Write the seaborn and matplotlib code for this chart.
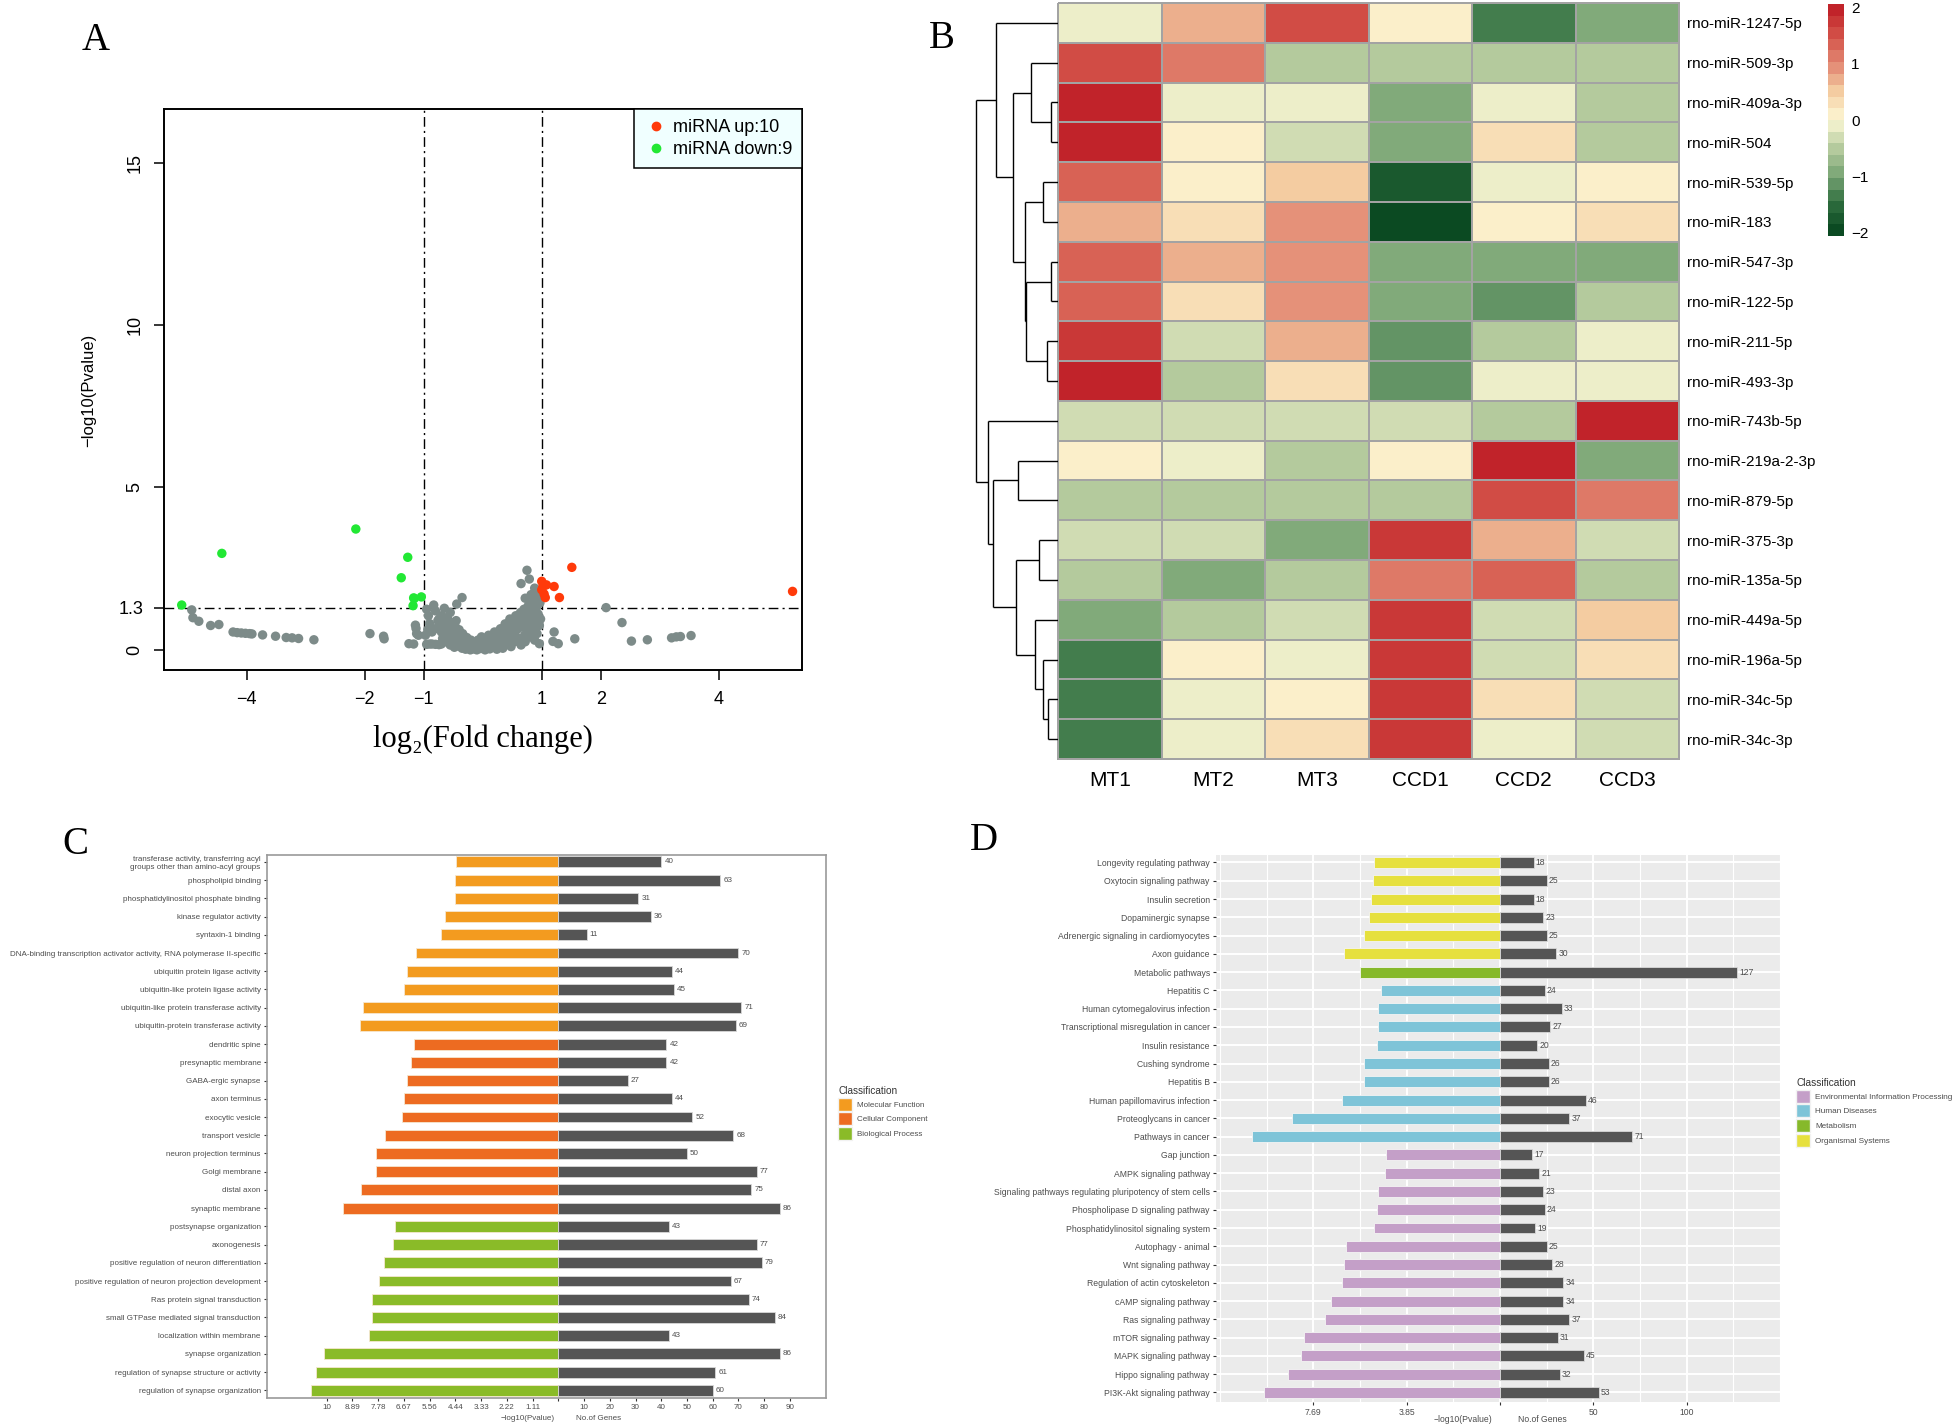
import matplotlib
matplotlib.use("Agg")
import matplotlib.pyplot as plt
from matplotlib import font_manager
from matplotlib.colors import LinearSegmentedColormap
from matplotlib.lines import Line2D
from matplotlib.patches import Patch
import numpy as np
import pandas as pd
import seaborn as sns

# ============ Canvas ============
W, H = 1960, 1427

# ============ Panel A: volcano ============
GRAY_POINTS = [
    # left tail
    (-4.93, 1.23), (-4.91, 0.99), (-4.81, 0.88), (-4.61, 0.75), (-4.47, 0.78),
    (-4.23, 0.55), (-4.16, 0.53), (-4.09, 0.52), (-4.02, 0.51), (-3.95, 0.50),
    (-3.91, 0.49), (-3.73, 0.46), (-3.51, 0.42), (-3.33, 0.38), (-3.23, 0.37),
    (-3.12, 0.35), (-2.86, 0.31), (-1.91, 0.50), (-1.68, 0.42), (-1.67, 0.34),
    (-1.25, 0.19), (-1.17, 0.18), (-1.14, 0.76), (-1.13, 0.66), (-1.12, 0.50),
    (-1.09, 0.45),
    # around -1
    (-0.95, 0.17), (-0.90, 0.18), (-0.86, 0.18), (-0.80, 0.17), (-0.74, 0.16),
    (-0.70, 0.18), (-0.97, 0.45), (-0.93, 0.62), (-0.90, 0.81), (-0.86, 0.55),
    (-0.83, 1.38), (-0.95, 1.25), (-0.92, 1.05), (-0.79, 0.66), (-0.76, 0.90),
    (-0.65, 1.28), (-0.44, 1.41), (-0.35, 1.61), (-0.55, 1.15), (-0.80, 1.20),
    # left lobe
    (-0.74, 0.95), (-0.72, 0.75), (-0.70, 0.55), (-0.70, 1.05), (-0.68, 0.35),
    (-0.66, 0.85), (-0.65, 0.62), (-0.63, 0.45), (-0.62, 0.25), (-0.60, 1.00),
    (-0.60, 0.75), (-0.58, 0.55), (-0.57, 0.35), (-0.55, 0.15), (-0.54, 0.85),
    (-0.52, 0.65), (-0.50, 0.45), (-0.49, 0.25), (-0.48, 0.08), (-0.46, 0.70),
    (-0.45, 0.90), (-0.44, 0.50), (-0.42, 0.30), (-0.41, 0.12), (-0.40, 0.62),
    (-0.38, 0.42), (-0.36, 0.20), (-0.35, 0.05), (-0.34, 0.50), (-0.32, 0.32),
    (-0.30, 0.12), (-0.29, 0.02), (-0.27, 0.38), (-0.25, 0.22), (-0.23, 0.08),
    (-0.21, 0.00), (-0.20, 0.30), (-0.18, 0.14), (-0.16, 0.03), (-0.14, 0.22),
    # bottom
    (-0.12, 0.10), (-0.10, 0.00), (-0.08, 0.30), (-0.06, 0.15), (-0.04, 0.04),
    (-0.02, 0.40), (0.00, 0.20), (0.02, 0.06), (0.04, 0.00), (0.06, 0.28),
    (0.08, 0.12), (0.10, 0.45), (0.12, 0.03), (0.14, 0.20), (0.16, 0.35),
    (0.18, 0.08), (0.20, 0.55), (0.22, 0.25), (0.24, 0.02), (0.26, 0.40),
    (0.28, 0.15),
    # right lobe
    (0.30, 0.65), (0.32, 0.30), (0.34, 0.05), (0.36, 0.50), (0.38, 0.80),
    (0.40, 0.18), (0.42, 0.62), (0.44, 0.38), (0.46, 0.95), (0.48, 0.10),
    (0.50, 0.75), (0.52, 0.50), (0.54, 0.25), (0.56, 1.05), (0.58, 0.62),
    (0.60, 0.85), (0.62, 0.35), (0.64, 1.15), (0.65, 0.15), (0.66, 0.70),
    (0.68, 0.95), (0.70, 1.25), (0.71, 0.45), (0.72, 0.25), (0.74, 0.80),
    (0.75, 1.10), (0.77, 1.35), (0.78, 0.60), (0.80, 0.40), (0.81, 0.95),
    (0.83, 1.20), (0.84, 1.45), (0.85, 0.70), (0.87, 1.05), (0.88, 0.30),
    (0.89, 1.55), (0.90, 0.85), (0.91, 1.30), (0.92, 0.50), (0.94, 1.10),
    (0.95, 1.70), (0.96, 0.75), (0.97, 1.45), (0.98, 0.95),
    (0.75, 2.45), (0.79, 2.18), (0.65, 2.04), (0.72, 1.59), (0.82, 1.70),
    (0.93, 1.75), (0.88, 1.90), (0.97, 1.62),
    # right tail
    (0.96, 0.19), (0.82, 0.45), (1.19, 0.26), (1.21, 0.55), (1.28, 0.19),
    (1.56, 0.34), (2.09, 1.30), (2.36, 0.84), (2.52, 0.27), (2.79, 0.31),
    (3.20, 0.37), (3.28, 0.40), (3.35, 0.41), (3.53, 0.44),
]
UP_X = [1.51, 1.00, 1.08, 1.21, 1.00, 1.04, 1.06, 1.30, 1.02, 5.25]
UP_Y = [2.54, 2.11, 2.00, 1.95, 1.85, 1.72, 1.61, 1.61, 1.95, 1.80]
DOWN_X = [-5.10, -4.42, -2.15, -1.27, -1.38, -1.17, -1.04, -1.18, -1.16]
DOWN_Y = [1.38, 2.97, 3.72, 2.85, 2.22, 1.60, 1.63, 1.36, 1.58]
VOL_XTICKS = [-4, -2, -1, 1, 2, 4]
VOL_YTICKS = [0, 1.3, 5, 10, 15]

# ============ Panel B: heatmap ============
MIRNAS = ["rno-miR-1247-5p", "rno-miR-509-3p", "rno-miR-409a-3p", "rno-miR-504",
          "rno-miR-539-5p", "rno-miR-183", "rno-miR-547-3p", "rno-miR-122-5p",
          "rno-miR-211-5p", "rno-miR-493-3p", "rno-miR-743b-5p", "rno-miR-219a-2-3p",
          "rno-miR-879-5p", "rno-miR-375-3p", "rno-miR-135a-5p", "rno-miR-449a-5p",
          "rno-miR-196a-5p", "rno-miR-34c-5p", "rno-miR-34c-3p"]
MT1 = [-0.2, 1.6, 2.0, 2.0, 1.3, 0.7, 1.3, 1.3, 1.7, 2.0, -0.4, 0.0, -0.6, -0.4, -0.6, -0.9, -1.3, -1.3, -1.3]
MT2 = [0.8, 1.1, -0.2, 0.0, 0.0, 0.25, 0.8, 0.25, -0.4, -0.6, -0.4, -0.2, -0.6, -0.4, -0.9, -0.6, 0.0, -0.2, -0.2]
MT3 = [1.6, -0.6, -0.2, -0.4, 0.5, 0.9, 0.9, 0.9, 0.7, 0.25, -0.4, -0.6, -0.6, -0.9, -0.6, -0.4, -0.2, 0.0, 0.25]
CCD1 = [0.2, -0.6, -0.9, -0.9, -1.7, -2.0, -0.9, -0.9, -1.1, -1.1, -0.4, 0.0, -0.6, 1.8, 1.1, 1.8, 1.8, 1.8, 1.8]
CCD2 = [-1.3, -0.6, -0.2, 0.3, -0.2, 0.05, -0.9, -1.1, -0.6, -0.2, -0.45, 2.0, 1.5, 0.7, 1.3, -0.4, -0.4, 0.3, -0.2]
CCD3 = [-0.9, -0.6, -0.6, -0.6, 0.0, 0.25, -0.9, -0.6, -0.2, -0.2, 2.0, -0.9, 1.1, -0.4, -0.6, 0.45, 0.3, -0.4, -0.4]
HEAT_ANCHORS = [-2, -1.5, -1, -0.5, 0, 0.5, 1, 1.5, 2]
HEAT_COLORS = ["#0B4A22", "#2F6E3F", "#7BA676", "#B7CC9F", "#FCF7D4",
               "#F5D0A4", "#E38A74", "#D4544A", "#C1232A"]
# row dendrogram: (node, left, right, height)
DEND_MERGES = [
    ("a", 2, 3, 10), ("b", 1, "a", 40), ("c", 4, 5, 22), ("d", 6, 7, 10),
    ("e", 8, 9, 17), ("f", "d", "e", 48), ("g", "c", "f", 50), ("h", "b", "g", 67),
    ("i", 0, "h", 93), ("j", 11, 12, 60), ("k", 13, 14, 28), ("l", 17, 18, 15),
    ("m", 16, "l", 22), ("n", 15, "m", 35), ("o", "k", "n", 63), ("p", "j", "o", 97),
    ("q", 10, "p", 105), ("r", "i", "q", 123),
]

# ============ Panel C: GO ============
GO_TERMS = [
    "transferase activity, transferring acyl\ngroups other than amino-acyl groups",
    "phospholipid binding", "phosphatidylinositol phosphate binding",
    "kinase regulator activity", "syntaxin-1 binding",
    "DNA-binding transcription activator activity, RNA polymerase II-specific",
    "ubiquitin protein ligase activity", "ubiquitin-like protein ligase activity",
    "ubiquitin-like protein transferase activity", "ubiquitin-protein transferase activity",
    "dendritic spine", "presynaptic membrane", "GABA-ergic synapse", "axon terminus",
    "exocytic vesicle", "transport vesicle", "neuron projection terminus",
    "Golgi membrane", "distal axon", "synaptic membrane",
    "postsynapse organization", "axonogenesis",
    "positive regulation of neuron differentiation",
    "positive regulation of neuron projection development",
    "Ras protein signal transduction", "small GTPase mediated signal transduction",
    "localization within membrane", "synapse organization",
    "regulation of synapse structure or activity", "regulation of synapse organization",
]
GO_CLASS = (["Molecular Function"] * 10 + ["Cellular Component"] * 10
            + ["Biological Process"] * 10)
GO_LOGP = [4.42, 4.46, 4.46, 4.88, 5.06, 6.16, 6.52, 6.65, 8.42, 8.55,
           6.24, 6.36, 6.53, 6.65, 6.76, 7.50, 7.88, 7.88, 8.52, 9.31,
           7.05, 7.12, 7.54, 7.75, 8.03, 8.06, 8.16, 10.10, 10.45, 10.66]
GO_GENES = [40, 63, 31, 36, 11, 70, 44, 45, 71, 69,
            42, 42, 27, 44, 52, 68, 50, 77, 75, 86,
            43, 77, 79, 67, 74, 84, 43, 86, 61, 60]
GO_CLASSES = ["Molecular Function", "Cellular Component", "Biological Process"]
GO_COLORS = ["#F39B1F", "#ED6B21", "#8ABB28"]
GO_SCALE = 9

# ============ Panel D: KEGG ============
KEGG_TERMS = [
    "Longevity regulating pathway", "Oxytocin signaling pathway", "Insulin secretion",
    "Dopaminergic synapse", "Adrenergic signaling in cardiomyocytes", "Axon guidance",
    "Metabolic pathways", "Hepatitis C", "Human cytomegalovirus infection",
    "Transcriptional misregulation in cancer", "Insulin resistance", "Cushing syndrome",
    "Hepatitis B", "Human papillomavirus infection", "Proteoglycans in cancer",
    "Pathways in cancer", "Gap junction", "AMPK signaling pathway",
    "Signaling pathways regulating pluripotency of stem cells",
    "Phospholipase D signaling pathway", "Phosphatidylinositol signaling system",
    "Autophagy - animal", "Wnt signaling pathway", "Regulation of actin cytoskeleton",
    "cAMP signaling pathway", "Ras signaling pathway", "mTOR signaling pathway",
    "MAPK signaling pathway", "Hippo signaling pathway", "PI3K-Akt signaling pathway",
]
KEGG_CLASS = (["Organismal Systems"] * 6 + ["Metabolism"] + ["Human Diseases"] * 9
              + ["Environmental Information Processing"] * 14)
KEGG_LOGP = [5.18, 5.25, 5.30, 5.42, 5.62, 6.42, 5.76, 4.91, 5.04, 5.04,
             5.08, 5.59, 5.59, 6.52, 8.58, 10.21, 4.70, 4.75, 5.04, 5.06,
             5.21, 6.36, 6.43, 6.52, 6.97, 7.22, 8.10, 8.20, 8.75, 9.71]
KEGG_GENES = [18, 25, 18, 23, 25, 30, 127, 24, 33, 27, 20, 26, 26, 46, 37,
              71, 17, 21, 23, 24, 19, 25, 28, 34, 34, 37, 31, 45, 32, 53]
KEGG_CLASSES = ["Environmental Information Processing", "Human Diseases",
                "Metabolism", "Organismal Systems"]
KEGG_COLORS = ["#C49FC8", "#7EC4D8", "#86B92A", "#E6E03E"]
KEGG_SCALE = 13

# ============ Style ============
RED, GREEN, GRAY = "#FF3A0A", "#22E834", "#7D8B89"
BAR_GRAY = "#555555"
TXT_GRAY = "#4D4D4D"

_names = {f.name for f in font_manager.fontManager.ttflist}
HAS_NARROW = "Liberation Sans Narrow" in _names
SMALL_FONT = ["Liberation Sans Narrow", "Liberation Sans"] if HAS_NARROW else ["Liberation Sans"]
SIZE_C = 6.9 if HAS_NARROW else 5.8
SIZE_D = 7.3 if HAS_NARROW else 6.2
SIZE_LEG_D = 6.9 if HAS_NARROW else 5.85
SERIF = ["Liberation Serif", "DejaVu Serif"]
plt.rcParams["font.family"] = ["Liberation Sans", "DejaVu Sans"]


def box(left, top, right, bottom):
    return [left / W, 1 - bottom / H, (right - left) / W, (bottom - top) / H]


def fxy(x, y):
    return x / W, 1 - y / H


def dendro_segments(merges, n_leaves):
    pos = {i: i + 0.5 for i in range(n_leaves)}
    hgt = {i: 0.0 for i in range(n_leaves)}
    segs = []
    for name, a, b, h in merges:
        for c in (a, b):
            segs.append(([hgt[c], h], [pos[c], pos[c]]))
        segs.append(([h, h], [pos[a], pos[b]]))
        pos[name] = (pos[a] + pos[b]) / 2
        hgt[name] = h
    return segs


fig = plt.figure(figsize=(W / 100, H / 100), dpi=100)

# ---------- A ----------
axA = fig.add_axes(box(164, 109, 802, 670))
vol = pd.DataFrame({
    "fc": [p[0] for p in GRAY_POINTS] + DOWN_X + UP_X,
    "p": [p[1] for p in GRAY_POINTS] + DOWN_Y + UP_Y,
    "grp": ["ns"] * len(GRAY_POINTS) + ["down"] * len(DOWN_X) + ["up"] * len(UP_X),
})
sns.scatterplot(data=vol, x="fc", y="p", hue="grp",
                palette={"ns": GRAY, "down": GREEN, "up": RED},
                s=46, linewidth=0, legend=False, ax=axA, zorder=3)
dotdash = (0, (7, 3, 1.5, 3))
for v in (-1, 1):
    axA.axvline(v, color="black", lw=1.0, ls=dotdash, zorder=2)
axA.axhline(1.3, color="black", lw=1.0, ls=dotdash, zorder=2)
axA.set_xlim(-5.40, 5.41)
axA.set_ylim(-0.62, 16.65)
axA.set_xticks(VOL_XTICKS)
axA.set_xticklabels([f"{v}".replace("-", "\u2212") for v in VOL_XTICKS])
axA.set_yticks(VOL_YTICKS)
axA.set_yticklabels([f"{v:g}" for v in VOL_YTICKS])
for lab in axA.get_yticklabels():
    if lab.get_text() != "1.3":
        lab.set_rotation(90)
        lab.set_va("center")
axA.tick_params(direction="out", length=7, width=1.1, labelsize=13, pad=8)
for sp in axA.spines.values():
    sp.set_linewidth(1.4)
axA.set_xlabel("")
axA.set_ylabel("")
leg = axA.legend(handles=[
    Line2D([], [], marker="o", ls="", color=RED, ms=6, label="miRNA up:10"),
    Line2D([], [], marker="o", ls="", color=GREEN, ms=6, label="miRNA down:9")],
    loc="upper right", fontsize=13, frameon=True, fancybox=False,
    facecolor="#F0FFFF", edgecolor="black", framealpha=1, borderaxespad=0,
    handletextpad=0.2, handlelength=1.4, borderpad=0.55, labelspacing=0.3)
leg.get_frame().set_linewidth(1.1)
fig.text(*fxy(89, 390), "\u2212log10(Pvalue)", rotation=90, ha="center", va="center", fontsize=12)
fig.text(*fxy(483, 739), "log\u2082(Fold change)", ha="center", va="center",
         fontsize=22, family=SERIF)
fig.text(*fxy(96, 40), "A", ha="center", va="center", fontsize=28, family=SERIF)

# ---------- B ----------
axB = fig.add_axes(box(1058, 3, 1679, 759))
cax = fig.add_axes(box(1828, 4, 1844, 236))
axDen = fig.add_axes(box(960, 3, 1058, 759))
heat = pd.DataFrame({"MT1": MT1, "MT2": MT2, "MT3": MT3,
                     "CCD1": CCD1, "CCD2": CCD2, "CCD3": CCD3}, index=MIRNAS)
lo, hi = HEAT_ANCHORS[0], HEAT_ANCHORS[-1]
cmap = LinearSegmentedColormap.from_list(
    "rg", [((a - lo) / (hi - lo), c) for a, c in zip(HEAT_ANCHORS, HEAT_COLORS)], N=20)
sns.heatmap(heat, cmap=cmap, vmin=-2.06, vmax=2.06, linewidths=1.1,
            linecolor="#A3A3A3", cbar_ax=cax, ax=axB)
axB.collections[0].set_clip_on(False)
axB.yaxis.tick_right()
axB.set_yticks(np.arange(len(MIRNAS)) + 0.5)
axB.set_yticklabels(MIRNAS, rotation=0, fontsize=11)
axB.set_xticks(np.arange(heat.shape[1]) + 0.5)
axB.set_xticklabels(heat.columns, rotation=0, fontsize=15)
axB.tick_params(axis="y", length=0, pad=6)
axB.tick_params(axis="x", length=0, pad=9)
axB.set_xlabel("")
axB.set_ylabel("")
cb = axB.collections[0].colorbar
cb.set_ticks([2, 1, 0, -1, -2])
cb.set_ticklabels(["2", "1", "0", "\u22121", "\u22122"])
cb.outline.set_visible(False)
cax.tick_params(length=0, labelsize=11, pad=5)
for xs, ys in dendro_segments(DEND_MERGES, len(MIRNAS)):
    axDen.plot(xs, ys, color="black", lw=1.0, solid_capstyle="butt")
axDen.set_xlim(146.7, 0)
axDen.set_ylim(len(MIRNAS), 0)
axDen.axis("off")
fig.text(*fxy(942, 38), "B", ha="center", va="center", fontsize=28, family=SERIF)


# ---------- C and D: mirrored bars ----------
def mirrored_bars(ax, terms, classes, logp, genes, scale, class_order, colors, edge, size):
    df = pd.DataFrame({"term": terms, "cls": classes, "logp": logp, "genes": genes})
    df["score"] = -df["logp"] * scale
    sns.barplot(data=df, x="score", y="term", hue="cls", hue_order=class_order,
                palette=dict(zip(class_order, colors)), dodge=False, width=0.6,
                saturation=1, orient="h", errorbar=None, edgecolor=edge,
                linewidth=0.6, legend=False, ax=ax, zorder=3)
    sns.barplot(data=df, x="genes", y="term", color=BAR_GRAY, width=0.6,
                saturation=1, orient="h", errorbar=None, edgecolor="#D8D8D8",
                linewidth=0.6, ax=ax, zorder=3)
    for i, g in enumerate(genes):
        ax.text(g + 1.2, i, f"{g}", va="center", ha="left", fontsize=size,
                color=TXT_GRAY, family=SMALL_FONT)
    ax.set_xlabel("")
    ax.set_ylabel("")
    ax.tick_params(axis="both", colors="#333333", labelcolor=TXT_GRAY,
                   labelsize=size, length=2.5, width=0.8, pad=2)
    for lab in ax.get_yticklabels() + ax.get_xticklabels():
        lab.set_fontfamily(SMALL_FONT)


def class_legend(ax, x, y, class_order, colors, size):
    handles = [Patch(facecolor=c, edgecolor="#F2F2F2", label=k)
               for k, c in zip(class_order, colors)]
    lg = ax.legend(handles=handles, title="Classification", loc="upper left",
                   bbox_to_anchor=fxy(x, y), bbox_transform=fig.transFigure,
                   frameon=False, fontsize=size, title_fontsize=size + 1.4,
                   alignment="left", handlelength=1.75, handleheight=2.1,
                   handletextpad=0.6, labelspacing=0.2, borderaxespad=0, borderpad=0)
    for t in lg.get_texts():
        t.set_fontfamily(SMALL_FONT)
        t.set_color(TXT_GRAY)
    lg.get_title().set_fontfamily(SMALL_FONT)
    lg.get_title().set_color("#333333")


axC = fig.add_axes(box(267, 855, 826, 1398))
mirrored_bars(axC, GO_TERMS, GO_CLASS, GO_LOGP, GO_GENES, GO_SCALE,
              GO_CLASSES, GO_COLORS, "#F6E7D0", SIZE_C)
go_ticks = [-90, -80, -70, -60, -50, -40, -30, -20, -10, 0, 10, 20, 30, 40, 50, 60, 70, 80, 90]
axC.set_xticks(go_ticks)
axC.set_xticklabels([f"{round(-t / GO_SCALE, 2):g}" if t < 0 else (f"{t}" if t > 0 else "")
                     for t in go_ticks])
for lab in axC.get_xticklabels():
    lab.set_fontfamily(SMALL_FONT)
axC.set_xlim(-113.2, 104.0)
axC.set_ylim(29.42, -0.38)
for sp in axC.spines.values():
    sp.set_color("#9A9A9A")
    sp.set_linewidth(1.2)
class_legend(axC, 838, 1086, GO_CLASSES, GO_COLORS, SIZE_C)
fig.text(*fxy(528, 1418), "\u2212log10(Pvalue)", ha="center", va="center",
         fontsize=SIZE_C, color=TXT_GRAY, family=SMALL_FONT)
fig.text(*fxy(599, 1418), "No.of Genes", ha="center", va="center",
         fontsize=SIZE_C, color=TXT_GRAY, family=SMALL_FONT)
fig.text(*fxy(75, 845), "C", ha="center", va="center", fontsize=28, family=SERIF)

axD = fig.add_axes(box(1216, 855, 1781, 1402))
axD.set_facecolor("#EBEBEB")
axD.set_axisbelow(True)
mirrored_bars(axD, KEGG_TERMS, KEGG_CLASS, KEGG_LOGP, KEGG_GENES, KEGG_SCALE,
              KEGG_CLASSES, KEGG_COLORS, "#F4F4F4", SIZE_D)
kegg_ticks = [-100, -50, 0, 50, 100]
axD.set_xticks(kegg_ticks)
axD.set_xticklabels([f"{-t / KEGG_SCALE:.2f}" if t < 0 else (f"{t}" if t > 0 else "")
                     for t in kegg_ticks])
for lab in axD.get_xticklabels():
    lab.set_fontfamily(SMALL_FONT)
axD.set_xticks([-150, -125, -75, -25, 25, 75, 125, 150], minor=True)
axD.tick_params(axis="x", which="minor", length=0)
axD.grid(axis="y", color="white", lw=1.4)
axD.grid(axis="x", which="major", color="white", lw=1.4)
axD.grid(axis="x", which="minor", color="white", lw=0.8)
axD.set_xlim(-152.2, 150.6)
axD.set_ylim(29.52, -0.41)
for sp in axD.spines.values():
    sp.set_visible(False)
class_legend(axD, 1796, 1078, KEGG_CLASSES, KEGG_COLORS, SIZE_LEG_D)
fig.text(*fxy(1463, 1419), "\u2212log10(Pvalue)", ha="center", va="center",
         fontsize=SIZE_D, color=TXT_GRAY, family=SMALL_FONT)
fig.text(*fxy(1542, 1419), "No.of Genes", ha="center", va="center",
         fontsize=SIZE_D, color=TXT_GRAY, family=SMALL_FONT)
fig.text(*fxy(984, 841), "D", ha="center", va="center", fontsize=28, family=SERIF)

fig.savefig("out.png", dpi=100, facecolor="white")
